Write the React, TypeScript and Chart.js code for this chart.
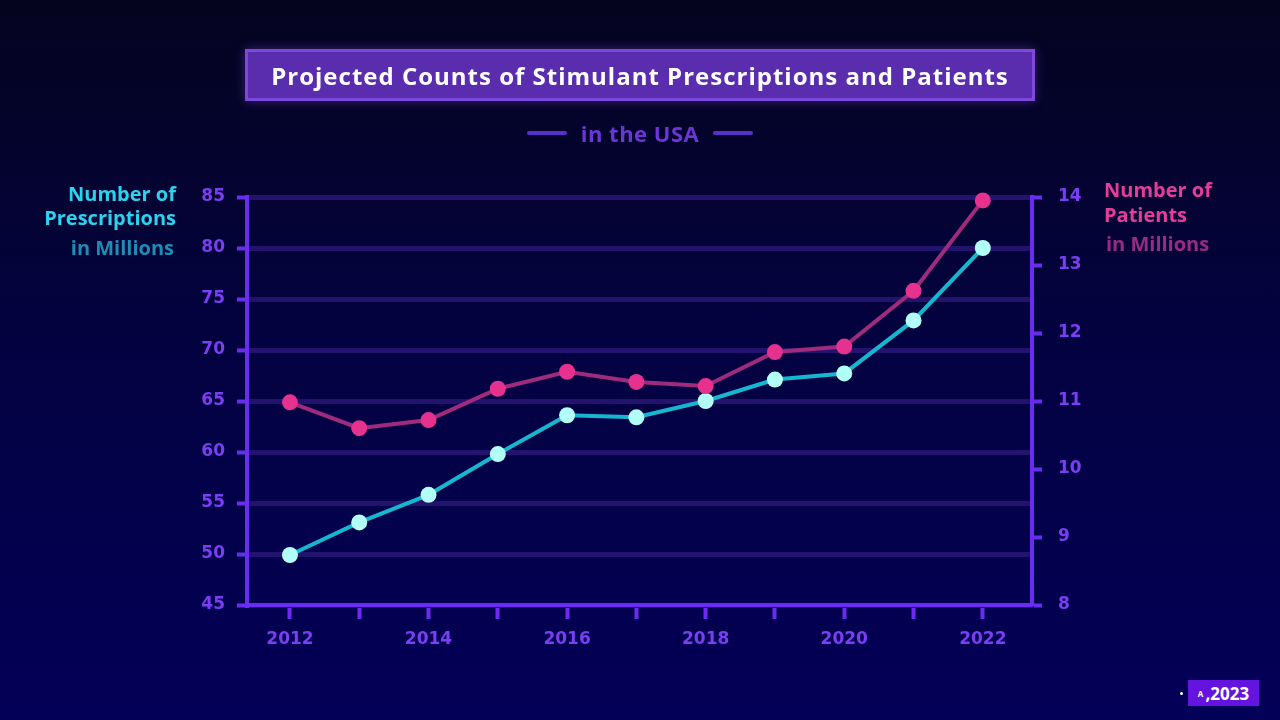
import React, { useEffect, useRef } from "react";
import { Chart, registerables } from "chart.js";

Chart.register(...registerables);

const years = [2012, 2013, 2014, 2015, 2016, 2017, 2018, 2019, 2020, 2021, 2022];
const prescriptions = [49.9, 53.1, 55.8, 59.8, 63.6, 63.4, 65.0, 67.1, 67.7, 72.9, 80.0];
const patients = [10.98, 10.6, 10.72, 11.18, 11.43, 11.28, 11.22, 11.72, 11.8, 12.62, 13.95];
const leftRange = [45, 85];
const rightRange = [8, 14];
const xRange = [2011.38, 2022.71];

const titleText = "Projected Counts of Stimulant Prescriptions and Patients";
const subtitleText = "in the USA";

const AXIS = "#6a2cf0";
const TICK_TEXT = "#7b3ef2";
const GRID = "#23126e";
const TICK_FONT = { family: "'DejaVu Sans'", size: 17, weight: "bold" as const };
const TEXT_FONT = "'Open Sans', Lato, sans-serif";

export default function App() {
  const ref = useRef<HTMLCanvasElement | null>(null);

  useEffect(() => {
    document.body.style.margin = "0";
    if (!ref.current) return;
    const chart = new Chart(ref.current, {
      type: "line",
      data: {
        datasets: [
          {
            label: "Number of Patients",
            data: years.map((y, i) => ({ x: y, y: patients[i] })),
            yAxisID: "y1",
            borderColor: "#a02b7c",
            borderWidth: 4,
            pointRadius: 8,
            pointBorderWidth: 0,
            pointBackgroundColor: "#e6318f",
            pointBorderColor: "#e6318f",
            clip: false as any,
          },
          {
            label: "Number of Prescriptions",
            data: years.map((y, i) => ({ x: y, y: prescriptions[i] })),
            yAxisID: "y",
            borderColor: "#17b6cf",
            borderWidth: 4,
            pointRadius: 8,
            pointBorderWidth: 0,
            pointBackgroundColor: "#b2fff8",
            pointBorderColor: "#b2fff8",
            clip: false as any,
          },
        ],
      },
      options: {
        animation: false,
        responsive: true,
        maintainAspectRatio: false,
        layout: { padding: { top: 197, bottom: 0, left: 0, right: 0 } },
        plugins: { legend: { display: false }, tooltip: { enabled: false } },
        scales: {
          x: {
            type: "linear",
            position: "bottom",
            min: xRange[0],
            max: xRange[1],
            afterFit: (s: any) => {
              s.height = 115;
            },
            ticks: {
              stepSize: 1,
              includeBounds: false,
              autoSkip: false,
              maxRotation: 0,
              color: TICK_TEXT,
              font: TICK_FONT,
              padding: 10,
              callback: (v: any) => (Math.round(v) % 2 === 0 ? String(Math.round(v)) : ""),
            },
            grid: {
              drawOnChartArea: false,
              drawTicks: true,
              tickLength: 14,
              tickWidth: 4,
              tickColor: AXIS,
            },
            border: { color: AXIS, width: 4 },
          },
          y: {
            type: "linear",
            position: "left",
            min: leftRange[0],
            max: leftRange[1],
            afterFit: (s: any) => {
              s.width = 247;
            },
            ticks: { stepSize: 5, color: TICK_TEXT, font: TICK_FONT, padding: 12 },
            grid: {
              color: GRID,
              lineWidth: 5,
              tickLength: 10,
              tickWidth: 4,
              tickColor: AXIS,
            },
            border: { color: AXIS, width: 4 },
          },
          y1: {
            type: "linear",
            position: "right",
            min: rightRange[0],
            max: rightRange[1],
            afterFit: (s: any) => {
              s.width = 248;
            },
            ticks: { stepSize: 1, color: TICK_TEXT, font: TICK_FONT, padding: 16 },
            grid: {
              drawOnChartArea: false,
              tickLength: 10,
              tickWidth: 4,
              tickColor: AXIS,
            },
            border: { color: AXIS, width: 4 },
          },
        },
      },
    });
    return () => chart.destroy();
  }, []);

  const abs = (o: React.CSSProperties): React.CSSProperties => ({
    position: "absolute",
    fontFamily: TEXT_FONT,
    fontWeight: 700,
    whiteSpace: "nowrap",
    ...o,
  });

  return (
    <div
      style={{
        position: "fixed",
        left: 0,
        top: 0,
        width: 1280,
        height: 720,
        overflow: "hidden",
        background: "linear-gradient(180deg, #05041f 0%, #03023f 45%, #030058 100%)",
      }}
    >
      <div style={{ position: "absolute", left: 0, top: 0, width: 1280, height: 720 }}>
        <canvas ref={ref} />
      </div>

      <div
        style={abs({
          left: 245,
          top: 49,
          width: 790,
          height: 52,
          boxSizing: "border-box",
          border: "3px solid #7c49da",
          background: "#5a2cae",
          boxShadow: "0 0 10px rgba(120,70,220,0.45)",
          color: "#ffffff",
          fontSize: 24,
          letterSpacing: 1,
          display: "flex",
          alignItems: "center",
          justifyContent: "center",
        })}
      >
        {titleText}
      </div>

      <div
        style={abs({
          left: 0,
          top: 120,
          width: 1280,
          height: 26,
          display: "flex",
          alignItems: "center",
          justifyContent: "center",
          gap: 14,
          color: "#6b36d6",
          fontSize: 22,
          letterSpacing: 0.5,
        })}
      >
        <span style={{ width: 40, height: 4, borderRadius: 2, background: "#5b30c8" }} />
        <span>{subtitleText}</span>
        <span style={{ width: 40, height: 4, borderRadius: 2, background: "#5b30c8" }} />
      </div>

      <div style={abs({ left: 0, width: 176, top: 182, lineHeight: "24px", fontSize: 20, textAlign: "right", color: "#2bd4ee" })}>
        Number of
      </div>
      <div style={abs({ left: 0, width: 176, top: 206, lineHeight: "24px", fontSize: 20, textAlign: "right", color: "#2bd4ee" })}>
        Prescriptions
      </div>
      <div style={abs({ left: 0, width: 174, top: 236, lineHeight: "24px", fontSize: 20, textAlign: "right", color: "#1c8db5" })}>
        in Millions
      </div>

      <div style={abs({ left: 1104, top: 178, lineHeight: "24px", fontSize: 20, color: "#e63d9c" })}>Number of</div>
      <div style={abs({ left: 1104, top: 203, lineHeight: "24px", fontSize: 20, color: "#e63d9c" })}>Patients</div>
      <div style={abs({ left: 1106, top: 232, lineHeight: "24px", fontSize: 20, color: "#9a2b82" })}>in Millions</div>

      <div style={{ position: "absolute", left: 1180, top: 692, width: 3, height: 3, borderRadius: 2, background: "#ffffff" }} />
      <div
        style={abs({
          left: 1188,
          top: 680,
          width: 71,
          height: 26,
          background: "#6514e0",
          color: "#ffffff",
          fontSize: 17,
          display: "flex",
          alignItems: "center",
          justifyContent: "center",
          gap: 2,
        })}
      >
        <span style={{ fontSize: 8 }}>A</span>
        <span>,2023</span>
      </div>
    </div>
  );
}
